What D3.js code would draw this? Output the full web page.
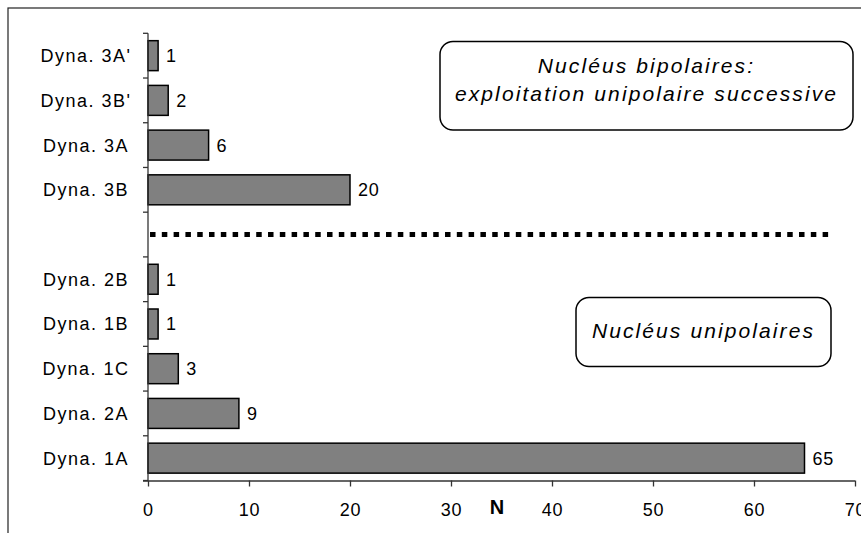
<!DOCTYPE html>
<html>
<head>
<meta charset="utf-8">
<script src="https://cdn.jsdelivr.net/npm/d3@7/dist/d3.min.js"></script>
<style>
  html, body { margin: 0; padding: 0; background: #fff; }
  svg { display: block; font-family: "Liberation Sans", Arial, sans-serif; }
</style>
</head>
<body>
<svg id="chart" width="861" height="533"></svg>
<script>
// ---- data ----
const categories = ["Dyna. 3A'", "Dyna. 3B'", "Dyna. 3A", "Dyna. 3B", "__gap__", "Dyna. 2B", "Dyna. 1B", "Dyna. 1C", "Dyna. 2A", "Dyna. 1A"];
const values     = [1, 2, 6, 20, null, 1, 1, 3, 9, 65];
const xTicks     = [0, 10, 20, 30, 40, 50, 60, 70];
const xTitle     = "N";
const dividerRange = [0.2, 67.4];   // dotted separator, in N units
const boxBipolar   = ["Nucléus bipolaires:", "exploitation unipolaire successive"];
const boxUnipolar  = ["Nucléus unipolaires"];

// ---- layout ----
const svg = d3.select("#chart");
const plot = { left: 148, right: 855, top: 33.3, bottom: 480.5 };

const x = d3.scaleLinear().domain([0, 70]).range([plot.left, plot.right]);
const y = d3.scaleBand().domain(categories).range([plot.top, plot.bottom])
  .paddingInner(0.33).paddingOuter(0.165);

// outer frame
svg.append("rect").attr("x", 8).attr("y", 8).attr("width", 900).attr("height", 600)
  .attr("fill", "none").attr("stroke", "#222").attr("stroke-width", 1.2);

const data = categories.map((c, i) => ({ c, v: values[i] })).filter(d => d.v !== null);

// bars
svg.append("g").selectAll("rect").data(data).join("rect")
  .attr("x", x(0))
  .attr("y", d => y(d.c))
  .attr("width", d => x(d.v) - x(0))
  .attr("height", y.bandwidth())
  .attr("fill", "#808080")
  .attr("stroke", "#000")
  .attr("stroke-width", 1.5);

// value labels
svg.append("g").selectAll("text").data(data).join("text")
  .attr("x", d => x(d.v) + 8)
  .attr("y", d => y(d.c) + y.bandwidth() / 2)
  .attr("dy", "0.36em")
  .attr("font-size", 18)
  .attr("letter-spacing", 0.8)
  .attr("fill", "#000")
  .text(d => d.v);

// y axis line + ticks at band boundaries
const step = y.step();
const bounds = d3.range(categories.length + 1).map(i => plot.top + i * step);
const axisColor = "#333";
svg.append("line").attr("x1", plot.left).attr("x2", plot.left)
  .attr("y1", plot.top).attr("y2", plot.bottom)
  .attr("stroke", axisColor).attr("stroke-width", 1.3);
svg.append("g").selectAll("line").data(bounds).join("line")
  .attr("x1", plot.left - 5).attr("x2", plot.left)
  .attr("y1", d => d).attr("y2", d => d)
  .attr("stroke", axisColor).attr("stroke-width", 1.3);

// category labels (centered)
svg.append("g").selectAll("text").data(categories.filter(c => c !== "__gap__")).join("text")
  .attr("x", 86)
  .attr("y", c => y(c) + y.bandwidth() / 2)
  .attr("dy", "0.36em")
  .attr("text-anchor", "middle")
  .attr("font-size", 18)
  .attr("letter-spacing", 1.5)
  .attr("fill", "#000")
  .text(c => c);

// x axis
const xAxis = d3.axisBottom(x).tickValues(xTicks).tickSize(6).tickSizeOuter(0);
const gx = svg.append("g").attr("transform", `translate(0,${plot.bottom})`).call(xAxis);
gx.select(".domain").attr("stroke", axisColor).attr("stroke-width", 1.3)
  .attr("d", `M${plot.left - 5},0.5H${plot.right}`);
gx.selectAll(".tick line").attr("stroke", axisColor).attr("stroke-width", 1.3);
gx.selectAll(".tick text")
  .attr("font-family", "\"Liberation Sans\", Arial, sans-serif")
  .attr("font-size", 18).attr("letter-spacing", 0.8)
  .attr("fill", "#000").attr("y", 23).attr("dy", "0.71em");

// axis title
svg.append("text").attr("x", 497).attr("y", 514)
  .attr("text-anchor", "middle").attr("font-size", 20).attr("font-weight", "bold")
  .attr("fill", "#000").text(xTitle);

// dotted divider in the gap band
const gapY = y("__gap__") + y.bandwidth() / 2;
svg.append("line")
  .attr("x1", x(dividerRange[0])).attr("x2", x(dividerRange[1]))
  .attr("y1", gapY).attr("y2", gapY)
  .attr("stroke", "#000").attr("stroke-width", 5)
  .attr("stroke-dasharray", "5.5,6.3");

// annotation boxes
function box(x0, y0, x1, y1, lines, lineY) {
  svg.append("rect").attr("x", x0).attr("y", y0).attr("width", x1 - x0).attr("height", y1 - y0)
    .attr("rx", 13).attr("ry", 13)
    .attr("fill", "#fff").attr("stroke", "#000").attr("stroke-width", 1.5);
  lines.forEach((t, i) => {
    svg.append("text").attr("x", (x0 + x1) / 2).attr("y", lineY[i])
      .attr("dy", "0.36em").attr("text-anchor", "middle")
      .attr("font-size", 21).attr("font-style", "italic").attr("letter-spacing", 2.1)
      .attr("fill", "#000").text(t);
  });
}
box(440, 41.5, 853, 130, boxBipolar, [65, 93]);
box(576, 297.5, 831, 366.5, boxUnipolar, [330]);
</script>
</body>
</html>
